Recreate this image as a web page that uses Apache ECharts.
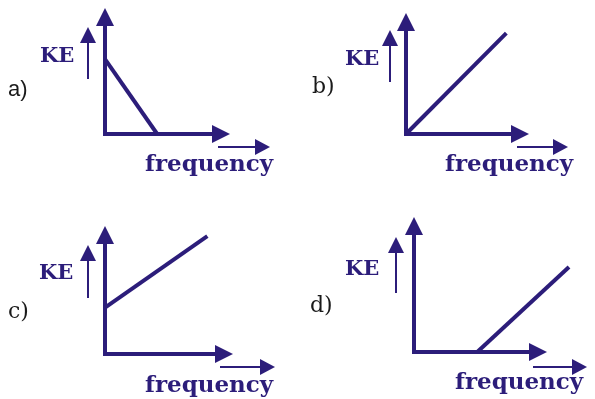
<!DOCTYPE html>
<html>
<head>
<meta charset="utf-8">
<script src="https://cdn.jsdelivr.net/npm/echarts@6/dist/echarts.min.js"></script>
<style>
  html, body { margin: 0; padding: 0; background: #fff; }
  #chart { width: 595px; height: 399px; }
</style>
</head>
<body>
<div id="chart"></div>
<script>
const INK = '#2c1d7a'

// panel labels
const panelNames = ['a)', 'b)', 'c)', 'd)']
const yAxisName = 'KE'
const xAxisName = 'frequency'

// KE vs frequency lines, axis units 0..10 (d runs past the arrow tip)
const lineA = [[0, 6.4], [4.5, 0]]
const lineB = [[0, 0], [8.8, 9.0]]
const lineC = [[0, 3.9], [8.6, 9.9]]
const lineD = [[5.1, 0], [12.5, 6.75]]
const lines = [lineA, lineB, lineC, lineD]
const axisMax = 10
const plotMaxX = 13 // hidden x range, so a line can run past the drawn arrow

// layout per panel (pixels)
const panels = [
  { grid: { left: 105, top: 17, width: 116, height: 117 }, tag: [8, 90], tagFont: 'Liberation Sans', ke: [40, 57], up: [88, 79, 27], freq: [145, 165], right: [147, 218, 270] },
  { grid: { left: 406, top: 22, width: 114, height: 112 }, tag: [312, 87], tagFont: 'DejaVu Serif', ke: [345, 60], up: [390, 82, 30], freq: [445, 165], right: [147, 517, 568] },
  { grid: { left: 105, top: 235, width: 119, height: 119 }, tag: [8, 312], tagFont: 'DejaVu Serif', ke: [39, 274], up: [88, 298, 245], freq: [145, 386], right: [367, 220, 275] },
  { grid: { left: 414, top: 226, width: 124, height: 126 }, tag: [310, 306], tagFont: 'DejaVu Serif', ke: [345, 270], up: [396, 293, 237], freq: [455, 383], right: [367, 533, 587] },
]

const hidden = {
  axisLine: { show: false }, axisTick: { show: false },
  axisLabel: { show: false }, splitLine: { show: false },
}
const shown = {
  axisLine: {
    show: true, symbol: ['none', 'triangle'], symbolSize: [18, 18],
    lineStyle: { color: INK, width: 4, cap: 'square' },
  },
  axisTick: { show: false }, axisLabel: { show: false }, splitLine: { show: false },
}

// grids 0-3 carry the visible axes; grids 4-7 share origin and scale but reach further right
const grids = []
const xAxes = []
const yAxes = []
panels.forEach((p, i) => {
  grids.push({ ...p.grid, outerBoundsMode: 'none' })
  xAxes.push({ type: 'value', min: 0, max: axisMax, gridIndex: i, ...shown })
  yAxes.push({ type: 'value', min: 0, max: axisMax, gridIndex: i, ...shown })
})
panels.forEach((p, i) => {
  const g = p.grid
  grids.push({ ...g, width: g.width * plotMaxX / axisMax, outerBoundsMode: 'none' })
  xAxes.push({ type: 'value', min: 0, max: plotMaxX, gridIndex: 4 + i, ...hidden })
  yAxes.push({ type: 'value', min: 0, max: axisMax, gridIndex: 4 + i, ...hidden })
})

const graphics = []
panels.forEach((p, i) => {
  graphics.push({
    type: 'text', x: p.tag[0], y: p.tag[1],
    style: { text: panelNames[i], fill: '#1a1a1a', font: `22px "${p.tagFont}"`, textVerticalAlign: 'middle' },
  })
  graphics.push({
    type: 'text', x: p.ke[0], y: p.ke[1],
    style: { text: yAxisName, fill: INK, font: 'bold 21px "DejaVu Serif"', textVerticalAlign: 'middle' },
  })
  graphics.push({
    type: 'text', x: p.freq[0], y: p.freq[1],
    style: { text: xAxisName, fill: INK, font: 'bold 23px "DejaVu Serif"', textVerticalAlign: 'middle' },
  })
  // small up arrow beside KE
  const [ux, uy0, uy1] = p.up
  graphics.push({ type: 'line', shape: { x1: ux, y1: uy0, x2: ux, y2: uy1 + 10 }, style: { stroke: INK, lineWidth: 2 } })
  graphics.push({ type: 'polygon', shape: { points: [[ux, uy1], [ux - 8, uy1 + 16], [ux + 8, uy1 + 16]] }, style: { fill: INK } })
  // small right arrow above frequency
  const [ry, rx0, rx1] = p.right
  graphics.push({ type: 'line', shape: { x1: rx0, y1: ry, x2: rx1 - 10, y2: ry }, style: { stroke: INK, lineWidth: 2 } })
  graphics.push({ type: 'polygon', shape: { points: [[rx1, ry], [rx1 - 15, ry - 8], [rx1 - 15, ry + 8]] }, style: { fill: INK } })
})

const chart = echarts.init(document.getElementById('chart'))
chart.setOption({
  animation: false,
  grid: grids,
  xAxis: xAxes,
  yAxis: yAxes,
  series: lines.map((data, i) => ({
    type: 'line',
    xAxisIndex: 4 + i,
    yAxisIndex: 4 + i,
    data,
    symbol: 'none',
    lineStyle: { color: INK, width: 4 },
    z: 1,
  })),
  graphic: graphics,
})
</script>
</body>
</html>
